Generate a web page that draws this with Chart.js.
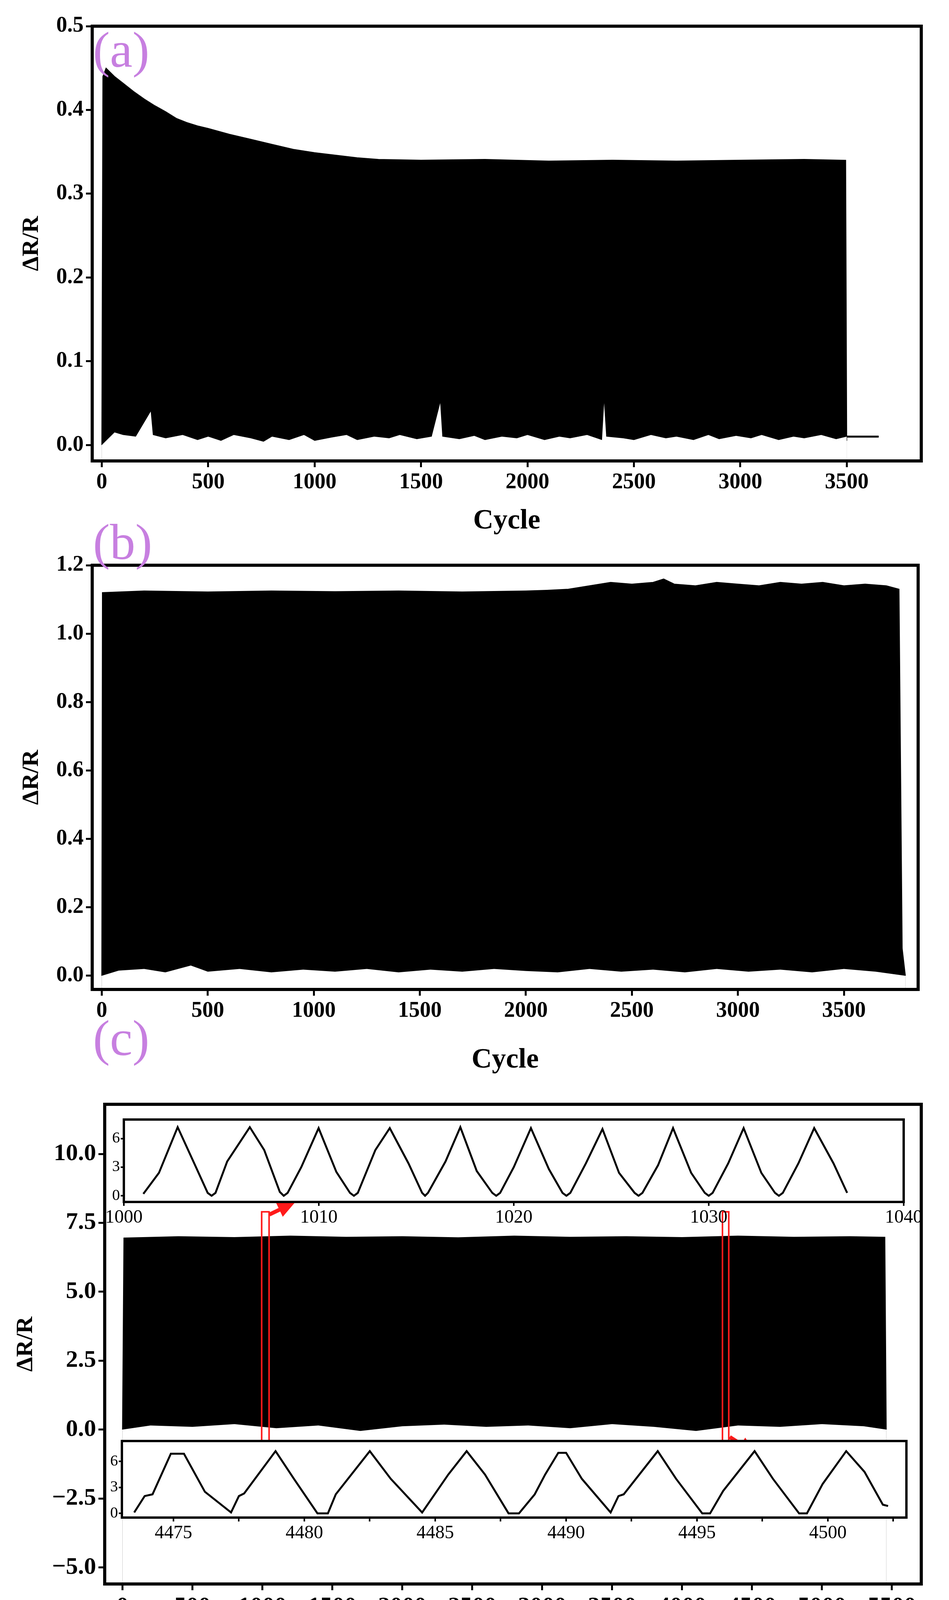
<!DOCTYPE html>
<html><head><meta charset="utf-8">
<script src="https://cdn.jsdelivr.net/npm/chart.js@4/dist/chart.umd.min.js"></script>
<style>
body{margin:0;background:#fff;width:2429px;height:4227px;position:relative;overflow:hidden}
.w{position:absolute;left:0}
.lab{position:absolute;font-family:"Liberation Serif";color:#c77fe0;font-size:130px;line-height:1}
</style></head><body>
<div class="w" style="top:0px;width:2429px;height:1400px"><canvas id="ca" width="2429" height="1400"></canvas></div>
<div class="w" style="top:1400px;width:2429px;height:1380px"><canvas id="cb" width="2429" height="1380"></canvas></div>
<div class="w" style="top:2780px;width:2429px;height:1447px"><canvas id="cc" width="2429" height="1447"></canvas></div>
<div class="w" style="top:2840px;width:2380px;height:307px"><canvas id="i1" width="2380" height="307"></canvas></div>
<div class="w" style="top:3663px;width:2380px;height:290px"><canvas id="i2" width="2380" height="290"></canvas></div>
<div class="lab" style="left:238px;top:62px">(a)</div>
<div class="lab" style="left:238px;top:1322px">(b)</div>
<div class="lab" style="left:238px;top:2592px">(c)</div>
<script>
// ---- Panel (a) ----
const aTopX=[0,5,20,60,100,150,200,250,300,350,400,450,500,600,700,800,900,1000,1100,1200,1300,1500,1800,2100,2400,2700,3000,3300,3495,3500];
const aTopY=[0,0.44,0.45,0.44,0.432,0.422,0.413,0.405,0.398,0.39,0.385,0.381,0.378,0.371,0.365,0.359,0.353,0.349,0.346,0.343,0.341,0.340,0.341,0.339,0.340,0.339,0.340,0.341,0.340,0.005];
const aLowX=[0,60,100,160,230,240,300,380,450,500,
 560,620,700,760,800,880,950,1000,1080,1150,
 1200,1280,1350,1400,1480,1550,1590,1600,1680,1750,
 1800,1880,1950,2000,2080,2150,2200,2280,2350,2360,
 2370,2450,2500,2580,2650,2700,2780,2850,2900,2980,
 3050,3100,3180,3250,3300,3380,3450,3500];
const aLowY=[0,0.015,0.012,0.01,0.04,0.012,0.008,0.012,0.006,0.01,
 0.005,0.012,0.008,0.004,0.01,0.006,0.012,0.005,0.009,0.012,
 0.006,0.01,0.008,0.012,0.007,0.01,0.05,0.01,0.007,0.011,
 0.006,0.01,0.008,0.012,0.006,0.01,0.008,0.012,0.006,0.05,
 0.01,0.008,0.006,0.012,0.008,0.01,0.006,0.012,0.007,0.011,
 0.008,0.012,0.006,0.01,0.008,0.012,0.007,0.01];
const aTailX=[3500,3650], aTailY=[0.01,0.01];
const aXTicks=[0,500,1000,1500,2000,2500,3000,3500];
const aYTicks=[0,0.1,0.2,0.3,0.4,0.5];
// ---- Panel (b) ----
const bTopX=[0,3,200,500,800,1100,1400,1700,2000,2100,2200,2300,2400,2500,2600,2650,2700,2800,2900,3000,3100,3200,3300,3400,3500,3600,3700,3760,3775,3790];
const bTopY=[0,1.12,1.125,1.122,1.125,1.123,1.125,1.122,1.125,1.127,1.13,1.14,1.15,1.145,1.15,1.16,1.145,1.14,1.15,1.145,1.14,1.15,1.145,1.15,1.14,1.145,1.14,1.13,0.08,0.0];
const bLowX=[0,80,200,300,420,500,650,800,950,1100,1250,1400,1550,1700,1850,2000,2150,2300,2450,2600,2750,2900,3050,3200,3350,3500,3650,3790];
const bLowY=[0,0.015,0.02,0.01,0.03,0.012,0.02,0.01,0.018,0.012,0.02,0.01,0.018,0.012,0.02,0.014,0.01,0.02,0.012,0.018,0.01,0.02,0.012,0.018,0.01,0.02,0.012,0];
const bXTicks=[0,500,1000,1500,2000,2500,3000,3500];
const bYTicks=[0,0.2,0.4,0.6,0.8,1.0,1.2];
// ---- Panel (c) ----
const cTopX=[0,10,400,800,1200,1600,2000,2400,2800,3200,3600,4000,4400,4800,5200,5450,5460];
const cTopY=[0,6.95,7.0,6.97,7.02,6.98,7.0,6.96,7.02,6.98,7.0,6.97,7.02,6.98,7.0,6.98,0];
const cLowX=[0,200,500,800,1100,1400,1700,2000,2300,2600,2900,3200,3500,3800,4100,4400,4700,5000,5300,5460];
const cLowY=[0,0.15,0.1,0.2,0.05,0.15,-0.05,0.12,0.18,0.1,0.15,0.05,0.2,0.1,-0.05,0.15,0.1,0.2,0.12,0];
const cXTicks=[0,500,1000,1500,2000,2500,3000,3500,4000,4500,5000,5500];
const cYTicks=[-5,-2.5,0,2.5,5,7.5,10];
const cYLabels=['\u22125.0','\u22122.5','0.0','2.5','5.0','7.5','10.0'];
const rectX0=[995,4289], rectX1=[1048,4334], rectY0=[-0.6,-0.6], rectY1=[7.9,7.9];
const arrowX0=[1050,4341], arrowY0=[7.8,-0.27], arrowX1=[1235,4528], arrowY1=[8.25,-0.87];
// ---- Inset 1 ----
const i1X=[1001.0,1001.8,1002.76,1003.7,1004.3,1004.5,1004.7,1005.3,1006.46,1007.2,
 1008.0,1008.2,1008.4,1009.1,1009.99,1010.9,1011.6,1011.8,1012.0,1012.9,
 1013.64,1014.6,1015.3,1015.45,1015.6,1016.5,1017.26,1018.1,1018.9,1019.1,
 1019.3,1020.0,1020.88,1021.8,1022.5,1022.7,1022.9,1023.7,1024.55,1025.4,
 1026.2,1026.4,1026.6,1027.4,1028.17,1029.1,1029.8,1030.0,1030.2,1031.0,
 1031.79,1032.7,1033.4,1033.6,1033.8,1034.6,1035.41,1036.4,1037.1];
const i1Y=[0.2,2.4,7.2,3.0,0.3,0,0.3,3.6,7.2,4.8,
 0.4,0,0.3,3.0,7.1,2.5,0.3,0,0.3,4.8,
 7.1,3.4,0.3,0,0.3,3.6,7.2,2.6,0.3,0,
 0.3,3.0,7.1,2.8,0.3,0,0.3,3.4,7.0,2.4,
 0.3,0,0.3,3.2,7.1,2.4,0.3,0,0.3,3.4,
 7.1,2.4,0.3,0,0.3,3.4,7.1,3.4,0.3];
const i1XTicks=[1000,1010,1020,1030,1040];
// ---- Inset 2 ----
const i2X=[4473.5,4473.9,4474.2,4474.9,4475.4,4476.2,4477.2,4477.5,4477.7,4478.9,
 4479.6,4480.5,4480.9,4481.2,4482.5,4483.3,4484.5,4485.5,4486.2,4486.9,
 4487.8,4488.2,4488.8,4489.2,4489.7,4490.0,4490.6,4491.7,4492.0,4492.2,
 4493.5,4494.2,4495.2,4495.5,4496.0,4497.2,4497.9,4498.9,4499.2,4499.8,
 4500.7,4501.4,4502.1,4502.3];
const i2Y=[0.1,2.0,2.2,6.9,6.9,2.5,0.1,2.0,2.3,7.2,
 4.0,0,0,2.2,7.2,4.0,0.1,4.5,7.2,4.5,
 0,0,2.2,4.5,7.0,7.0,4.0,0.1,2.0,2.2,
 7.2,4.0,0,0,2.6,7.2,4.0,0,0,3.4,
 7.2,4.8,1.0,0.85];
const i2XTicks=[4475,4477.5,4480,4482.5,4485,4487.5,4490,4492.5,4495,4497.5,4500,4502.5];
const insetYTicks=[0,3,6];

const pts=(xs,ys)=>xs.map((x,i)=>({x:x,y:ys[i]}));
const F="Liberation Serif";
const boxPlugin={id:'box',afterDraw(ch,a,o){const c=ch.ctx,ar=ch.chartArea;c.save();c.strokeStyle='#000';c.lineWidth=o.w||8;c.strokeRect(ar.left,ar.top,ar.right-ar.left,ar.bottom-ar.top);c.restore();}};
const whiteBg={id:'wbg',beforeDraw(ch,a,o){if(!o.on)return;const c=ch.ctx,ar=ch.chartArea;c.save();c.fillStyle='#fff';c.fillRect(ar.left,ar.top,ar.right-ar.left,ar.bottom-ar.top);c.restore();}};
const annot={id:'annot',afterDatasetsDraw(ch,a,o){if(!o.on)return;const c=ch.ctx,x=ch.scales.x,y=ch.scales.y;c.save();
 c.strokeStyle='#ff1a1a';c.lineWidth=4;
 for(let i=0;i<rectX0.length;i++){const l=x.getPixelForValue(rectX0[i]),r=x.getPixelForValue(rectX1[i]),t=y.getPixelForValue(rectY1[i]),b=y.getPixelForValue(rectY0[i]);c.strokeRect(l,t,r-l,b-t);}
 c.fillStyle='#ff1a1a';c.lineWidth=10;
 for(let i=0;i<arrowX0.length;i++){const x0=x.getPixelForValue(arrowX0[i]),y0=y.getPixelForValue(arrowY0[i]),x1=x.getPixelForValue(arrowX1[i]),y1=y.getPixelForValue(arrowY1[i]);
  const an=Math.atan2(y1-y0,x1-x0);c.beginPath();c.moveTo(x0,y0);c.lineTo(x1-30*Math.cos(an),y1-30*Math.sin(an));c.stroke();
  c.beginPath();c.moveTo(x1,y1);c.lineTo(x1-45*Math.cos(an)+20*Math.sin(an),y1-45*Math.sin(an)-20*Math.cos(an));c.lineTo(x1-45*Math.cos(an)-20*Math.sin(an),y1-45*Math.sin(an)+20*Math.cos(an));c.closePath();c.fill();}
 c.restore();}};

function main(id,o){
 const ds=[
  {data:pts(o.lowX,o.lowY),borderColor:'#fff',backgroundColor:'#fff',borderWidth:0,fill:'start',pointRadius:0,order:0,tension:0},
  {data:pts(o.topX,o.topY),borderColor:'#000',backgroundColor:'#000',borderWidth:2,fill:'start',pointRadius:0,order:1,tension:0}];
 if(o.tailX) ds.push({data:pts(o.tailX,o.tailY),borderColor:'#000',borderWidth:5,fill:false,pointRadius:0,order:-1});
 new Chart(document.getElementById(id),{type:'scatter',data:{datasets:ds},
  options:{responsive:false,animation:false,showLine:true,devicePixelRatio:1,
   layout:{padding:{top:o.pt,right:o.pr,left:0,bottom:0}},
   plugins:{legend:{display:false},tooltip:{enabled:false},box:{w:8},annot:{on:!!o.annot},wbg:{on:false}},
   scales:{
    x:{type:'linear',min:o.xmin,max:o.xmax,afterBuildTicks:s=>{s.ticks=o.xt.map(v=>({value:v}));},afterFit:s=>{s.height=o.xh;},
      grid:{drawOnChartArea:false,tickLength:16,lineWidth:5,color:'#000'},border:{display:false},
      ticks:{color:'#000',font:{family:F,weight:'bold',size:o.fs},padding:6,maxRotation:0,autoSkip:false,callback:v=>String(v)},
      title:{display:true,text:o.xtitle,color:'#000',font:{family:F,weight:'bold',size:72},padding:{top:4,bottom:o.tb}}},
    y:{type:'linear',min:o.ymin,max:o.ymax,afterBuildTicks:s=>{s.ticks=o.yt.map(v=>({value:v}));},afterFit:s=>{s.width=o.yw;},
      grid:{drawOnChartArea:false,tickLength:16,lineWidth:5,color:'#000'},border:{display:false},
      ticks:{color:'#000',font:{family:F,weight:'bold',size:o.fs},padding:6,autoSkip:false,callback:(v,i)=>o.yl?o.yl[i]:v.toFixed(1)},
      title:{display:true,text:'ΔR/R',color:'#000',font:{family:F,weight:'bold',size:60},padding:{top:o.tl,bottom:0}}}}},
  plugins:[boxPlugin,annot]});
}
main('ca',{topX:aTopX,topY:aTopY,lowX:aLowX,lowY:aLowY,tailX:aTailX,tailY:aTailY,xt:aXTicks,yt:aYTicks,xmin:-45,xmax:3850,ymin:-0.019,ymax:0.5,pt:67,pr:71,xh:220,yw:236,fs:56,xtitle:'Cycle',tb:22,tl:45});
main('cb',{topX:bTopX,topY:bTopY,lowX:bLowX,lowY:bLowY,xt:bXTicks,yt:bYTicks,xmin:-45,xmax:3850,ymin:-0.04,ymax:1.2,pt:47,pr:79,xh:247,yw:236,fs:56,xtitle:'Cycle',tb:22,tl:45});
main('cc',{topX:cTopX,topY:cTopY,lowX:cLowX,lowY:cLowY,xt:cXTicks,yt:cYTicks,yl:cYLabels,xmin:-127,xmax:5710,ymin:-5.6,ymax:11.8,pt:47,pr:71,xh:172,yw:268,fs:62,xtitle:'Time (s)',annot:true,tb:10,tl:30});

function inset(id,o){
 new Chart(document.getElementById(id),{type:'scatter',data:{datasets:[{data:pts(o.x,o.y),borderColor:'#000',borderWidth:5,fill:false,pointRadius:0,tension:0}]},
  options:{responsive:false,animation:false,showLine:true,devicePixelRatio:1,
   layout:{padding:{top:o.pt,right:o.pr,left:o.pl,bottom:0}},
   plugins:{legend:{display:false},tooltip:{enabled:false},box:{w:6},wbg:{on:true},annot:{on:false}},
   scales:{
    x:{type:'linear',min:o.xmin,max:o.xmax,afterBuildTicks:s=>{s.ticks=o.xt.map(v=>({value:v}));},afterFit:s=>{s.height=o.xh;},
      grid:{drawOnChartArea:false,tickLength:10,lineWidth:4,color:'#000'},border:{display:false},
      ticks:{color:'#000',font:{family:F,size:48},padding:2,maxRotation:0,autoSkip:false,callback:v=>(Number.isInteger(v)&&o.lab(v))?String(v):''}},
    y:{type:'linear',min:o.ymin,max:o.ymax,afterBuildTicks:s=>{s.ticks=insetYTicks.map(v=>({value:v}));},afterFit:s=>{s.width=o.yw;},
      grid:{drawOnChartArea:false,tickLength:8,lineWidth:4,color:'#000'},border:{display:false},
      ticks:{color:'#000',font:{family:F,size:40},padding:2,autoSkip:false}}}},
  plugins:[whiteBg,boxPlugin]});
}
inset('i1',{x:i1X,y:i1Y,xt:i1XTicks,xmin:1000,xmax:1040,ymin:-0.65,ymax:8.0,pt:10,pr:67,pl:255,yw:62,xh:70,lab:v=>true});
inset('i2',{x:i2X,y:i2Y,xt:i2XTicks,xmin:4473.03,xmax:4503.0,ymin:-0.49,ymax:8.37,pt:10,pr:60,pl:250,yw:62,xh:68,lab:v=>v%5===0});
</script></body></html>
